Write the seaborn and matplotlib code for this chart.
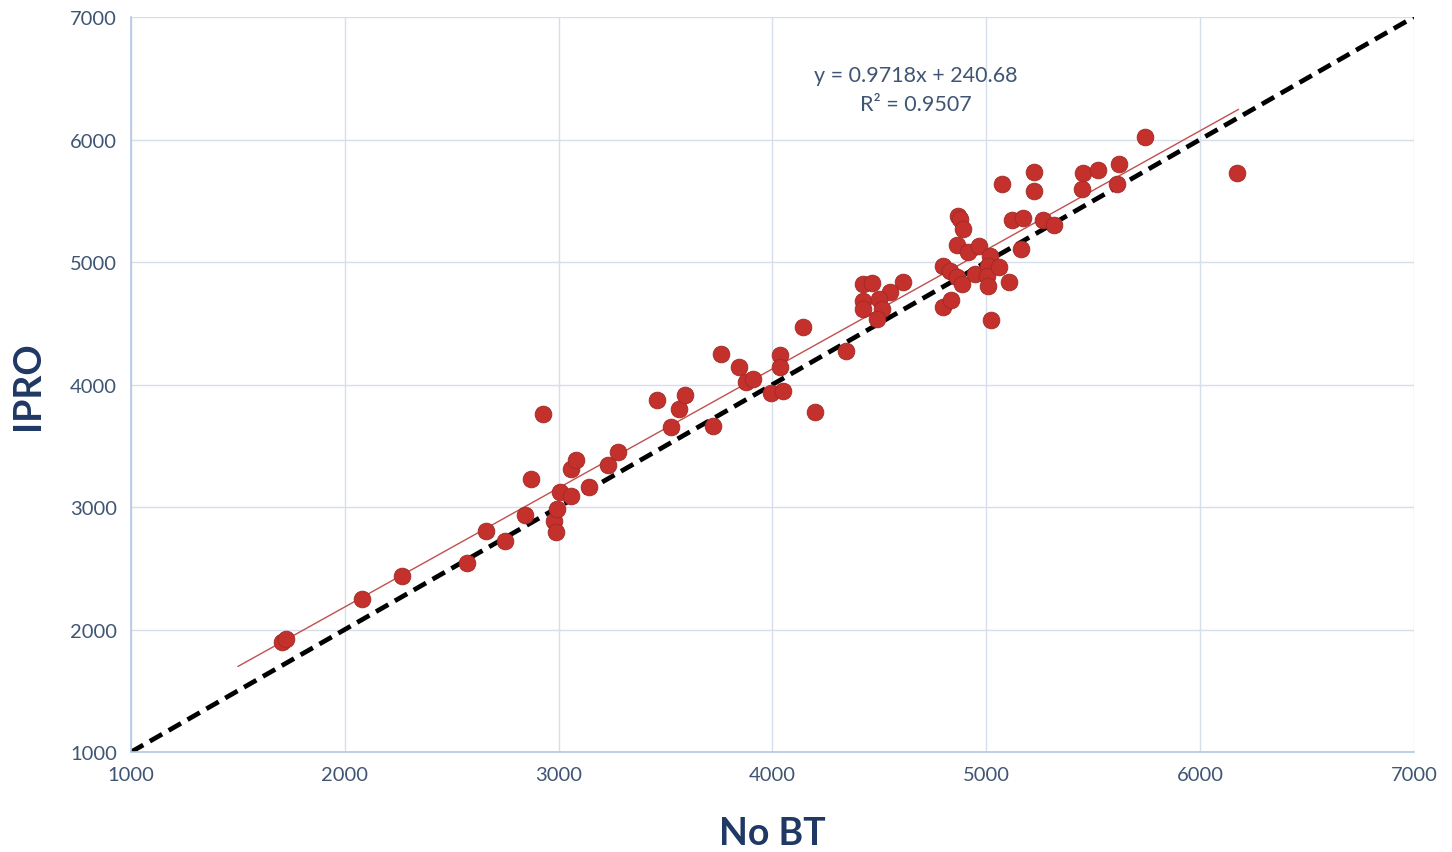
import numpy as np
import pandas as pd
import seaborn as sns
import matplotlib.pyplot as plt

# valores
no_bt = [1706, 1725, 2080, 2267, 2571, 2660, 2749, 2843, 2871, 2927,
         2978, 2988, 2992, 3006, 3058, 3058, 3081, 3142, 3231, 3278,
         3460, 3525, 3563, 3591, 3722, 3759, 3843, 3876, 3909, 3993,
         4049, 4035, 4035, 4199, 4143, 4344, 4423, 4465, 4610, 4549,
         4423, 4498, 4423, 4512, 4489, 4797, 4834, 4868, 4877, 4891,
         4863, 4914, 4966, 4797, 4830, 4863, 4886, 4947, 5017, 5008,
         5003, 5059, 5008, 5106, 5022, 5162, 5120, 5171, 5265, 5317,
         5073, 5223, 5223, 5452, 5522, 5620, 5447, 5611, 5742, 6172]
ipro = [1898, 1922, 2249, 2437, 2543, 2804, 2722, 2935, 3229, 3759,
        2886, 2796, 2984, 3122, 3090, 3310, 3384, 3163, 3343, 3449,
        3873, 3653, 3800, 3914, 3661, 4249, 4143, 4020, 4045, 3931,
        3947, 4241, 4143, 3776, 4469, 4273, 4820, 4827, 4837, 4755,
        4682, 4698, 4616, 4616, 4535, 4633, 4690, 5376, 5351, 5269,
        5139, 5082, 5131, 4967, 4927, 4878, 4820, 4902, 5049, 4967,
        4886, 4959, 4804, 4837, 4526, 5106, 5343, 5359, 5343, 5302,
        5637, 5735, 5580, 5727, 5751, 5800, 5596, 5637, 6020, 5727]

slope, intercept = 0.9718, 240.68
fit_range = [1500, 6180]
lims = [1000, 7000]
ticks = [1000, 2000, 3000, 4000, 5000, 6000, 7000]

df = pd.DataFrame({'No BT': no_bt, 'IPRO': ipro})

sns.set_style('white')
plt.rcParams['font.family'] = ['Lato', 'DejaVu Sans']

fig = plt.figure(figsize=(14.52, 8.53), dpi=100)
ax = fig.add_axes([0.0902, 0.1172, 0.8836, 0.8617])

txt_col = '#3F5573'
lab_col = '#1F3864'

# linea 1:1
ax.plot(lims, lims, color='black', lw=3.4, ls=(0, (3, 1.6)), zorder=2)

# linea de tendencia
fx = np.array(fit_range)
ax.plot(fx, slope * fx + intercept, color='#C0504D', lw=1.0, zorder=3)

sns.scatterplot(data=df, x='No BT', y='IPRO', ax=ax, s=145,
                color='#C4302B', edgecolor='#9E2A26', linewidth=0.6, zorder=4)

ax.set_xlim(lims)
ax.set_ylim(lims)
ax.set_xticks(ticks)
ax.set_yticks(ticks)
ax.grid(True, color='#D6DEEB', lw=1)
ax.set_axisbelow(True)
for side in ['top', 'right']:
    ax.spines[side].set_visible(False)
for side in ['left', 'bottom']:
    ax.spines[side].set_color('#B4C7E7')
    ax.spines[side].set_linewidth(1.2)

ax.tick_params(axis='both', length=0, labelsize=14.5, colors=txt_col, pad=10)
ax.set_xlabel('No BT', fontsize=27, fontweight='bold', color=lab_col, labelpad=24)
ax.set_ylabel('IPRO', fontsize=27, fontweight='bold', color=lab_col, labelpad=18)

ax.text(4671, 6527, 'y = 0.9718x + 240.68', ha='center', va='center',
        fontsize=15.5, color=txt_col)
ax.text(4671, 6290, 'R² = 0.9507', ha='center', va='center',
        fontsize=15.5, color=txt_col)

fig.savefig('out.png', dpi=100)
